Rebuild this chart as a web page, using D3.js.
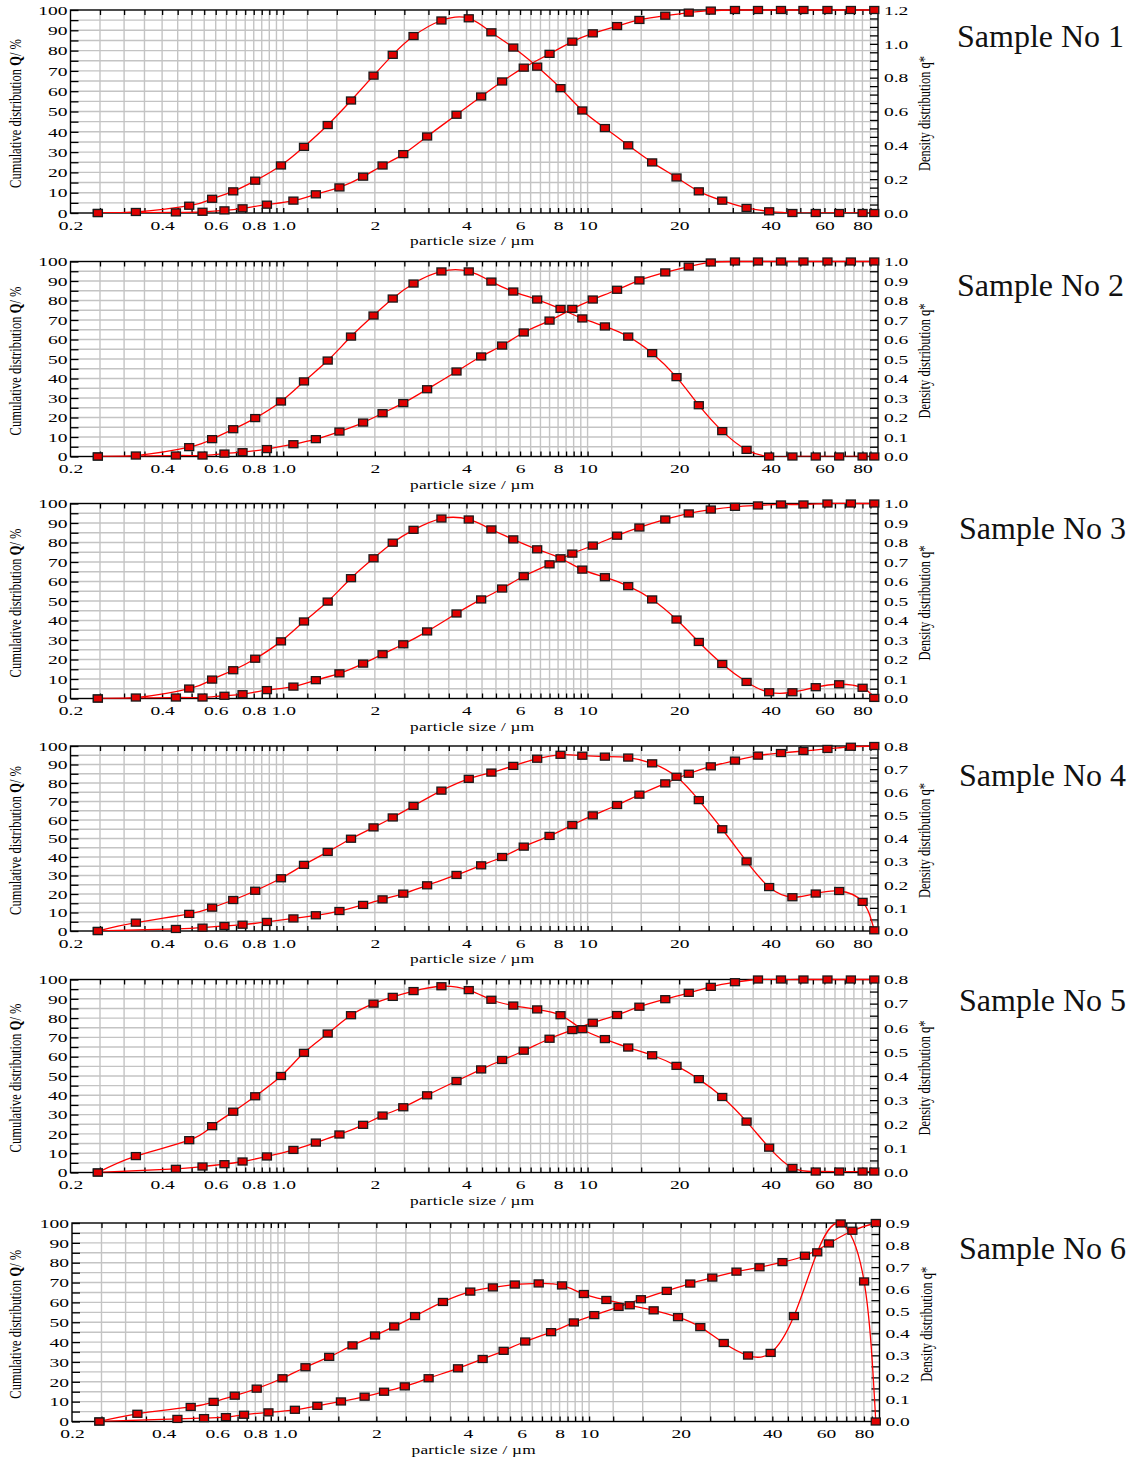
<!DOCTYPE html>
<html><head><meta charset="utf-8">
<script src="https://cdn.jsdelivr.net/npm/d3@7"></script>
<style>body{margin:0;background:#fff} svg{display:block}</style>
</head><body><svg id="c" width="1132" height="1458"></svg>
<script>
// ---------- DATA ----------
const sampleNames = ["Sample No 1","Sample No 2","Sample No 3","Sample No 4","Sample No 5","Sample No 6"];
const xTickValues = [0.2,0.4,0.6,0.8,1,2,4,6,8,10,20,40,60,80];
const xTickLabels = ["0.2","0.4","0.6","0.8","1.0","2","4","6","8","10","20","40","60","80"];
const gridX = [0.25,0.3,0.35,0.4,0.45,0.5,0.55,0.6,0.65,0.7,0.75,0.8,0.85,0.9,0.95,1,
  1.2,1.5,2,2.5,3,3.5,4,4.5,5,5.5,6,6.5,7,7.5,8,8.5,9,9.5,10,
  12,15,20,25,30,35,40,45,50,55,60,65,70,75,80,85];
const leftTicks = [0,10,20,30,40,50,60,70,80,90,100];
const rightMax = [1.2,1.0,1.0,0.8,0.8,0.9];
const rightLabelStep = [0.2,0.1,0.1,0.1,0.1,0.1];

// particle sizes (µm) of the markers
const densX = [0.246,0.328,0.491,0.584,0.685,0.809,0.983,1.17,1.40,1.67,1.98,2.29,2.68,3.31,4.07,4.83,5.70,6.83,8.15,9.61,11.4,13.6,16.3,19.6,23.2,27.7,33.3,39.5,47.1,56.2,67.1,80.1,87.5];
const cumX = [0.246,0.444,0.543,0.641,0.735,0.884,1.08,1.28,1.53,1.83,2.12,2.48,2.97,3.71,4.47,5.24,6.17,7.50,8.91,10.4,12.5,14.8,18.0,21.5,25.4,30.5,36.3,43.2,51.2,61.4,73.3,87.5];

// cumulative distribution Q / %
const cum1 = [0,0.3,0.6,1.3,2.3,4.1,6.1,9.2,12.6,17.9,23.4,29.0,37.7,48.4,57.4,64.8,71.6,78.4,84.4,88.5,92.1,95.1,97.2,98.7,99.7,100,100,100,100,100,100,100];
const cum2 = [0,0.5,0.5,1.5,2.2,3.8,6.3,8.9,12.8,17.4,22.2,27.4,34.5,43.6,51.3,56.9,63.6,69.7,75.7,80.5,85.5,90.3,94.4,97.4,99.5,100,100,100,100,100,100,100];
const cum3 = [0,0.5,0.5,1.4,2.2,4.3,6.1,9.4,12.9,17.9,22.7,27.8,34.4,43.6,50.8,56.4,62.7,68.8,74.3,78.4,83.5,87.7,91.8,94.9,96.9,98.3,99.0,99.5,99.5,100,100,100];
const cum4 = [0,1.1,1.8,2.7,3.4,4.9,6.8,8.5,10.8,14.1,17.1,20.2,24.7,30.3,35.5,40.0,45.6,51.4,57.3,62.5,68.1,73.7,79.8,85.0,89.0,92.1,94.8,96.2,97.3,98.4,99.6,100];
const cum5 = [0,1.9,3.1,4.3,5.7,8.3,11.7,15.5,19.7,24.7,29.5,33.8,40.0,47.4,53.4,58.3,63.1,69.3,73.8,77.6,81.6,85.9,89.8,93.1,96.2,98.6,100,100,100,100,100,100];
const cum6 = [0,1.3,1.7,2.2,3.4,4.6,5.9,7.9,10.1,12.5,15.0,17.7,21.8,26.8,31.5,35.6,40.3,45.0,49.9,53.6,57.7,61.6,65.8,69.5,72.5,75.5,77.7,80.3,83.5,89.7,96.1,100];

// density distribution q*
const dens1 = [0,0.006,0.043,0.084,0.128,0.191,0.281,0.391,0.520,0.665,0.812,0.935,1.046,1.138,1.151,1.068,0.978,0.865,0.738,0.606,0.502,0.400,0.299,0.210,0.128,0.073,0.030,0.010,0,0,0,0,0];
const dens2 = [0,0.005,0.048,0.089,0.140,0.197,0.282,0.385,0.492,0.615,0.723,0.810,0.887,0.949,0.949,0.897,0.846,0.805,0.757,0.708,0.667,0.615,0.530,0.407,0.263,0.130,0.034,0,0,0,0,0,0];
const dens3 = [0,0.005,0.051,0.097,0.145,0.204,0.293,0.395,0.497,0.617,0.719,0.799,0.865,0.923,0.918,0.867,0.816,0.765,0.719,0.661,0.622,0.576,0.508,0.405,0.290,0.177,0.085,0.032,0.032,0.058,0.073,0.055,0.003];
const dens4 = [0,0.036,0.074,0.101,0.134,0.174,0.228,0.286,0.342,0.399,0.448,0.491,0.541,0.607,0.658,0.685,0.714,0.745,0.762,0.758,0.754,0.750,0.725,0.667,0.566,0.440,0.301,0.190,0.146,0.162,0.173,0.126,0.003];
const dens5 = [0,0.068,0.134,0.192,0.252,0.316,0.400,0.496,0.576,0.652,0.700,0.728,0.752,0.772,0.756,0.716,0.692,0.676,0.652,0.594,0.553,0.518,0.486,0.442,0.387,0.313,0.211,0.103,0.019,0.004,0.004,0.004,0.004];
const dens6 = [0,0.035,0.066,0.089,0.117,0.149,0.196,0.246,0.293,0.345,0.390,0.431,0.478,0.542,0.589,0.608,0.621,0.626,0.617,0.578,0.551,0.527,0.504,0.473,0.428,0.356,0.299,0.311,0.478,0.767,0.898,0.635,0];

const cumSeries = [cum1,cum2,cum3,cum4,cum5,cum6];
const densSeries = [dens1,dens2,dens3,dens4,dens5,dens6];

// ---------- LAYOUT ----------
const layout = [
  {top:10,   bottom:213,   left:70.5, right:878, labX:957, labY:47},
  {top:261.5,bottom:456.5, left:70.5, right:878, labX:957, labY:296},
  {top:503.5,bottom:698.5, left:70.5, right:878, labX:959, labY:539},
  {top:746,  bottom:931,   left:70.5, right:878, labX:959, labY:786},
  {top:979.5,bottom:1172.5,left:70.5, right:878, labX:959, labY:1011},
  {top:1223, bottom:1421.5,left:72,   right:879.5, labX:959, labY:1259}
];
const SX = 1.5;           // horizontal stretch of the figure text
const FONT = "'Liberation Serif','Times New Roman',serif";
const RED = "#ff0000";

const svg = d3.select("#c");
const defs = svg.append("defs");

layout.forEach((p,i)=>{
  const g = svg.append("g");
  const x = d3.scaleLog().domain([0.2,90]).range([p.left,p.right]);
  const yL = d3.scaleLinear().domain([0,100]).range([p.bottom,p.top]);
  const yR = d3.scaleLinear().domain([0,rightMax[i]]).range([p.bottom,p.top]);
  const W = p.right-p.left, H = p.bottom-p.top;

  // grid
  g.append("g").selectAll("line").data(d3.range(5,100,5)).join("line")
    .attr("x1",p.left).attr("x2",p.right).attr("y1",d=>yL(d)).attr("y2",d=>yL(d))
    .attr("stroke","#c4c4c4").attr("stroke-width",1.4);
  g.append("g").selectAll("line").data(gridX).join("line")
    .attr("y1",p.top).attr("y2",p.bottom).attr("x1",d=>x(d)).attr("x2",d=>x(d))
    .attr("stroke","#c4c4c4").attr("stroke-width",1.4);

  // tick marks (inward)
  const tm = (ax)=>ax.tickFormat("").tickSizeOuter(0);
  g.append("g").attr("transform",`translate(0,${p.bottom})`)
    .call(tm(d3.axisBottom(x).tickValues(gridX).tickSize(-5)));
  g.append("g").attr("transform",`translate(0,${p.top})`)
    .call(tm(d3.axisTop(x).tickValues(gridX).tickSize(-5)));
  g.append("g").attr("transform",`translate(${p.left},0)`)
    .call(tm(d3.axisLeft(yL).tickValues(d3.range(0,101,5)).tickSize(-8)));
  const rStep = 0.05, rN = Math.round(rightMax[i]/rStep);
  g.append("g").attr("transform",`translate(${p.right},0)`)
    .call(tm(d3.axisRight(yR).tickValues(d3.range(0,rN+1).map(k=>k*rStep)).tickSize(-8)));
  g.selectAll(".domain").remove();
  g.selectAll(".tick line").attr("stroke","#000").attr("stroke-width",1.3);

  // frame
  g.append("rect").attr("x",p.left).attr("y",p.top).attr("width",W).attr("height",H)
    .attr("fill","none").attr("stroke","#000").attr("stroke-width",1.4);

  // tick labels
  const lab = g.append("g").attr("font-family",FONT).attr("font-size",13).attr("fill","#000");
  const ax1 = lab.append("g").attr("transform",`translate(${p.left},0)`)
    .call(d3.axisLeft(yL).tickValues(leftTicks).tickSize(0).tickPadding(0));
  ax1.selectAll("text").attr("x",-3/SX).attr("transform",`scale(${SX},1)`).attr("dy","0.33em");
  const ax2 = lab.append("g").attr("transform",`translate(0,${p.bottom})`)
    .call(d3.axisBottom(x).tickValues(xTickValues).tickFormat((d,k)=>xTickLabels[k]).tickSize(0).tickPadding(0));
  ax2.selectAll("text").attr("y",17).attr("dy",0).attr("transform",`scale(${SX},1)`);
  const rl = d3.range(0,Math.round(rightMax[i]/rightLabelStep[i])+1).map(k=>k*rightLabelStep[i]);
  const ax3 = lab.append("g").attr("transform",`translate(${p.right},0)`)
    .call(d3.axisRight(yR).tickValues(rl).tickFormat(d3.format(".1f")).tickSize(0).tickPadding(0));
  ax3.selectAll("text").attr("x",6/SX).attr("transform",`scale(${SX},1)`).attr("dy","0.33em");
  lab.selectAll(".domain").remove();
  lab.selectAll("text").attr("font-family",FONT).attr("font-size",13);

  // axis titles
  const cy = (p.top+p.bottom)/2 + 2;
  const lt = g.append("text").attr("font-family",FONT).attr("font-size",12.5)
    .attr("text-anchor","middle")
    .attr("transform",`translate(21,${cy}) scale(1.35,1) rotate(-90)`);
  lt.append("tspan").text("Cumulative distribution ");
  lt.append("tspan").attr("font-weight","bold").text("Q");
  lt.append("tspan").text("/ %");
  g.append("text").attr("font-family",FONT).attr("font-size",12.5)
    .attr("text-anchor","middle")
    .attr("transform",`translate(${p.right+52},${cy}) scale(1.35,1) rotate(-90)`)
    .text("Density distribution q*");
  g.append("text").attr("font-family",FONT).attr("font-size",12.5)
    .attr("text-anchor","middle").attr("letter-spacing",0.2)
    .attr("transform",`translate(${(p.left+p.right)/2-2},${p.bottom+32}) scale(1.38,1)`)
    .text("particle size / µm");

  // sample label
  g.append("text").attr("x",p.labX).attr("y",p.labY)
    .attr("font-family",FONT).attr("font-size",32).attr("fill","#111")
    .text(sampleNames[i]);

  // curves
  const cid = "clip"+i;
  defs.append("clipPath").attr("id",cid).append("rect")
    .attr("x",p.left).attr("y",p.top-3).attr("width",W).attr("height",H+3);
  const plot = g.append("g").attr("clip-path",`url(#${cid})`);
  const cumPts = cumX.map((v,k)=>[x(v), yL(cumSeries[i][k])]);
  const denPts = densX.map((v,k)=>[x(v), yR(densSeries[i][k])]);
  const line = d3.line().curve(d3.curveNatural);
  [cumPts,denPts].forEach(pts=>{
    plot.append("path").attr("d",line(pts)).attr("fill","none")
      .attr("stroke",RED).attr("stroke-width",1.3);
  });
  const mk = g.append("g");
  [cumPts,denPts].forEach(pts=>{
    mk.selectAll(null).data(pts).join("rect")
      .attr("x",d=>d[0]-4.5).attr("y",d=>d[1]-3.5).attr("width",9).attr("height",7)
      .attr("fill","#e00000").attr("stroke","#1a1a1a").attr("stroke-width",1.3);
  });
});
</script></body></html>
